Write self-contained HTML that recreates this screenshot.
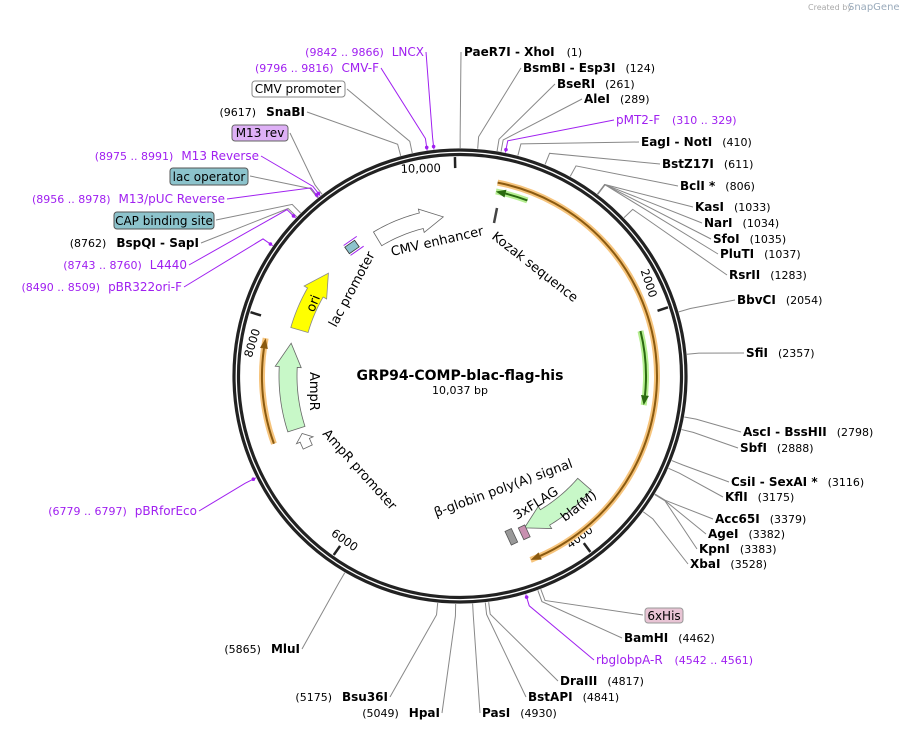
<!DOCTYPE html>
<html><head><meta charset="utf-8"><style>
body{margin:0;background:#fff}
svg{display:block;font-family:"DejaVu Sans","Liberation Sans",sans-serif}
.b{font-weight:bold;font-size:12px;fill:#000}
.n{font-size:11px;fill:#000}
.p{font-size:12px;fill:#a020f0}
</style></head><body>
<svg id="s" width="905" height="730" viewBox="0 0 905 730" xmlns="http://www.w3.org/2000/svg">
<text x="808" y="10" font-size="8" fill="#aaa">Created by</text><text x="848" y="10" font-size="10" fill="#9ab">SnapGene</text>
<g id="lines"></g>
<circle cx="460" cy="376" r="226" fill="none" stroke="#222" stroke-width="3.2"/>
<circle cx="460" cy="376" r="221.5" fill="none" stroke="#222" stroke-width="3.2"/>
<g id="feat"></g>
<text x="460" y="380" text-anchor="middle" font-weight="bold" font-size="14">GRP94-COMP-blac-flag-his</text>
<text x="460" y="394" text-anchor="middle" font-size="11">10,037 bp</text>

<text x="464" y="56"><tspan class="b">PaeR7I</tspan><tspan class="b">  - XhoI</tspan><tspan class="n" dx="12">(1)</tspan></text>
<text x="523" y="72"><tspan class="b">BsmBI  - Esp3I</tspan><tspan class="n" dx="10">(124)</tspan></text>
<text x="557" y="88"><tspan class="b">BseRI</tspan><tspan class="n" dx="10">(261)</tspan></text>
<text x="584" y="103"><tspan class="b">AleI</tspan><tspan class="n" dx="10">(289)</tspan></text>
<text x="616" y="124" class="p">pMT2-F <tspan dx="8" font-size="11">(310 .. 329)</tspan></text>
<text x="641" y="146"><tspan class="b">EagI  - NotI</tspan><tspan class="n" dx="10">(410)</tspan></text>
<text x="662" y="168"><tspan class="b">BstZ17I</tspan><tspan class="n" dx="10">(611)</tspan></text>
<text x="680" y="190"><tspan class="b">BclI *</tspan><tspan class="n" dx="10">(806)</tspan></text>
<text x="695" y="211"><tspan class="b">KasI</tspan><tspan class="n" dx="10">(1033)</tspan></text>
<text x="704" y="227"><tspan class="b">NarI</tspan><tspan class="n" dx="10">(1034)</tspan></text>
<text x="713" y="243"><tspan class="b">SfoI</tspan><tspan class="n" dx="10">(1035)</tspan></text>
<text x="720" y="258"><tspan class="b">PluTI</tspan><tspan class="n" dx="10">(1037)</tspan></text>
<text x="729" y="279"><tspan class="b">RsrII</tspan><tspan class="n" dx="10">(1283)</tspan></text>
<text x="737" y="304"><tspan class="b">BbvCI</tspan><tspan class="n" dx="10">(2054)</tspan></text>
<text x="746" y="357"><tspan class="b">SfiI</tspan><tspan class="n" dx="10">(2357)</tspan></text>
<text x="743" y="436"><tspan class="b">AscI  - BssHII</tspan><tspan class="n" dx="10">(2798)</tspan></text>
<text x="740" y="452"><tspan class="b">SbfI</tspan><tspan class="n" dx="10">(2888)</tspan></text>
<text x="731" y="486"><tspan class="b">CsiI  - SexAI *</tspan><tspan class="n" dx="10">(3116)</tspan></text>
<text x="725" y="501"><tspan class="b">KflI</tspan><tspan class="n" dx="10">(3175)</tspan></text>
<text x="715" y="523"><tspan class="b">Acc65I</tspan><tspan class="n" dx="10">(3379)</tspan></text>
<text x="708" y="538"><tspan class="b">AgeI</tspan><tspan class="n" dx="10">(3382)</tspan></text>
<text x="699" y="553"><tspan class="b">KpnI</tspan><tspan class="n" dx="10">(3383)</tspan></text>
<text x="690" y="568"><tspan class="b">XbaI</tspan><tspan class="n" dx="10">(3528)</tspan></text>
<rect x="645" y="608" width="38" height="15" rx="3" fill="#e8c4d4" stroke="#999"/>
<text x="664" y="620" text-anchor="middle" font-size="12">6xHis</text>
<text x="624" y="642"><tspan class="b">BamHI</tspan><tspan class="n" dx="10">(4462)</tspan></text>
<text x="596" y="664" class="p">rbglobpA-R <tspan dx="8" font-size="11">(4542 .. 4561)</tspan></text>
<text x="560" y="685"><tspan class="b">DraIII</tspan><tspan class="n" dx="10">(4817)</tspan></text>
<text x="528" y="701"><tspan class="b">BstAPI</tspan><tspan class="n" dx="10">(4841)</tspan></text>
<text x="482" y="717"><tspan class="b">PasI</tspan><tspan class="n" dx="10">(4930)</tspan></text>
<text x="440" y="717" text-anchor="end"><tspan class="n">(5049)</tspan><tspan class="b" dx="10">HpaI</tspan></text>
<text x="388" y="701" text-anchor="end"><tspan class="n">(5175)</tspan><tspan class="b" dx="10">Bsu36I</tspan></text>
<text x="300" y="653" text-anchor="end"><tspan class="n">(5865)</tspan><tspan class="b" dx="10">MluI</tspan></text>
<text x="197" y="515" text-anchor="end" class="p"><tspan font-size="11">(6779 .. 6797)</tspan><tspan dx="8">pBRforEco</tspan></text>
<text x="424" y="56" text-anchor="end" class="p"><tspan font-size="11">(9842 .. 9866)</tspan><tspan dx="8">LNCX</tspan></text>
<text x="379" y="72" text-anchor="end" class="p"><tspan font-size="11">(9796 .. 9816)</tspan><tspan dx="8">CMV-F</tspan></text>
<rect x="252" y="81" width="93" height="16" rx="3" fill="#fff" stroke="#888"/>
<text x="298" y="93" text-anchor="middle" font-size="12">CMV promoter</text>
<text x="305" y="116" text-anchor="end"><tspan class="n">(9617)</tspan><tspan class="b" dx="10">SnaBI</tspan></text>
<rect x="232" y="125" width="56" height="16" rx="3" fill="#deb0f6" stroke="#666"/>
<text x="260" y="137" text-anchor="middle" font-size="12">M13 rev</text>
<text x="259" y="160" text-anchor="end" class="p"><tspan font-size="11">(8975 .. 8991)</tspan><tspan dx="8">M13 Reverse</tspan></text>
<rect x="170" y="168" width="78" height="17" rx="3" fill="#8cc3cc" stroke="#555"/>
<text x="209" y="181" text-anchor="middle" font-size="12">lac operator</text>
<text x="225" y="203" text-anchor="end" class="p"><tspan font-size="11">(8956 .. 8978)</tspan><tspan dx="8">M13/pUC Reverse</tspan></text>
<rect x="114" y="212" width="100" height="17" rx="3" fill="#8cc3cc" stroke="#555"/>
<text x="164" y="225" text-anchor="middle" font-size="12">CAP binding site</text>
<text x="199" y="247" text-anchor="end"><tspan class="n">(8762)</tspan><tspan class="b" dx="10">BspQI  - SapI</tspan></text>
<text x="187" y="269" text-anchor="end" class="p"><tspan font-size="11">(8743 .. 8760)</tspan><tspan dx="8">L4440</tspan></text>
<text x="182" y="291" text-anchor="end" class="p"><tspan font-size="11">(8490 .. 8509)</tspan><tspan dx="8">pBR322ori-F</tspan></text>

<text transform="translate(392,256) rotate(-13)" font-size="13">CMV enhancer</text>
<text transform="translate(491,238) rotate(38)" font-size="13">Kozak sequence</text>
<text transform="translate(336,328) rotate(-62)" font-size="13">lac promoter</text>
<text transform="translate(310,372) rotate(90)" font-size="13">AmpR</text>
<text transform="translate(322,434) rotate(48)" font-size="13">AmpR promoter</text>
<text transform="translate(436,517) rotate(-20)" font-size="13">β-globin poly(A) signal</text>
<text transform="translate(517,520) rotate(-32)" font-size="13">3xFLAG</text>
</svg>
<script>
var cx=460,cy=376,N=10037;
function P(r,a){a=a*Math.PI/180;return [cx+r*Math.sin(a),cy-r*Math.cos(a)];}
function A(bp){return bp/N*360;}
var L='',F='';
var c=[[1,461,52],[124,521,68],[261,555,84],[289,582,99],[320,614,120,1],[410,639,142],[611,660,164],[806,678,186],[1033,693,207],[1034,702,223],[1035,711,239],[1037,718,254],[1283,727,275],[2054,735,300],[2357,744,353],[2798,741,432],[2888,738,448],[3116,729,482],[3175,723,497],[3379,713,519],[3382,706,534],[3383,697,549],[3528,688,564],[4440,643,615],[4462,622,638],[4551,594,660,1],[4817,558,681],[4841,526,697],[4930,480,713],
[5049,442,713],[5175,390,697],[5865,302,649],[6788,199,511,1],[9854,426,52,1],[9806,381,68,1],[9700,347,89],[9617,307,112],[9000,290,133],[8983,261,156,1],[8960,250,176],[8967,227,199,1],[8800,216,220],[8762,201,243],[8751,189,265,1],[8499,184,287,1]];
c.forEach(function(d){var a=A(d[0]),p=P(228,a),q=P(240,a);var col=d[3]?'#a020f0':'#888';
L+='<polyline points="'+p+' '+q+' '+d[1]+','+(d[2])+'" fill="none" stroke="'+col+'" stroke-width="1"/>';
if(d[3]){var m=P(231,a);L+='<circle cx="'+m[0]+'" cy="'+m[1]+'" r="1.8" fill="#a020f0"/>';}});
document.getElementById('lines').innerHTML=L;
[[10000,'10,000'],[2000,'2000'],[4000,'4000'],[6000,'6000'],[8000,'8000']].forEach(function(t){var a=A(t[0]),p=P(219,a),q=P(208,a);
F+='<line x1="'+p[0]+'" y1="'+p[1]+'" x2="'+q[0]+'" y2="'+q[1]+'" stroke="#222" stroke-width="2.5"/>';
var m=P(205,a-(a>90&&a<270?-4:4)),rot=(a>90&&a<270)?a-180:a;
F+='<text transform="translate('+m[0]+','+m[1]+') rotate('+rot+')" text-anchor="'+((a>90&&a<270)?'start':'end')+'" font-size="11.5">'+t[1]+'</text>';});
function arcPath(r,a1,a2){var p=P(r,a1),q=P(r,a2),l=Math.abs(a2-a1)>180?1:0,sw=a2>a1?1:0;return 'M'+p+' A'+r+','+r+' 0 '+l+' '+sw+' '+q;}
function lineArc(r,a1,a2,glow,dark){
var dir=a2>a1?1:-1,ae=a2-dir*3;
F+='<path d="'+arcPath(r,a1,a2)+'" fill="none" stroke="'+glow+'" stroke-width="6"/>';
F+='<path d="'+arcPath(r,a1,ae)+'" fill="none" stroke="'+dark+'" stroke-width="2"/>';
var t=P(r,a2),b1=P(r-4,ae),b2=P(r+4,ae);F+='<polygon points="'+t+' '+b1+' '+b2+'" fill="'+dark+'"/>';}
lineArc(197,11,159,'#f6c47c','#8a5a10');
lineArc(188,21,11,'#b5ee90','#2a6a10');
lineArc(186,76,99,'#b5ee90','#2a6a10');
lineArc(198,250,281,'#f6c47c','#8a5a10');
function blockArrow(r,w,a1,a2,fill,stroke){var dir=a2>a1?1:-1,ah=a2-dir*Math.min(8,Math.abs(a2-a1)*0.5),pts=[],i,n=20;
for(i=0;i<=n;i++)pts.push(P(r+w/2,a1+(ah-a1)*i/n));pts.push(P(r+w/2+4,ah));pts.push(P(r,a2));pts.push(P(r-w/2-4,ah));
for(i=n;i>=0;i--)pts.push(P(r-w/2,a1+(ah-a1)*i/n));
F+='<polygon points="'+pts.join(' ')+'" fill="'+fill+'" stroke="'+stroke+'" stroke-width="0.8"/>';}
blockArrow(160,16,-31,-6,'#fff','#666');
blockArrow(167,18,-74,-52,'#ffff00','#888');
blockArrow(172,18,252,281,'#c8f8c8','#666');
blockArrow(165,18,131,157,'#c8f8c8','#666');
blockArrow(168,10,245,250,'#fff','#666');
var o=P(167,-64);
F+='<text transform="translate('+(o[0]+4)+','+(o[1]+10)+') rotate(-68)" font-size="13">ori</text>';
F+='<text transform="translate(565,522) rotate(-38)" font-size="13">bla(M)</text>';
F+='<line x1="497" y1="208" x2="494" y2="223" stroke="#444" stroke-width="2.5"/>';
F+='<g transform="translate(352,247) rotate(-35)"><rect x="-6" y="-4" width="12" height="8" fill="#8cc3cc" stroke="#333" stroke-width="0.8"/><line x1="-6" y1="-6" x2="10" y2="-6" stroke="#a020f0"/><line x1="-6" y1="6" x2="10" y2="6" stroke="#a020f0"/></g>';
F+='<g transform="translate(512,537) rotate(-25)"><rect x="-4" y="-8" width="7" height="15" fill="#999" stroke="#555" stroke-width="0.8"/></g>';
F+='<g transform="translate(524,533) rotate(-25)"><rect x="-3" y="-7" width="7" height="13" fill="#c890b0" stroke="#555" stroke-width="0.8"/></g>';
document.getElementById('feat').innerHTML=F;
</script>
</body></html>
